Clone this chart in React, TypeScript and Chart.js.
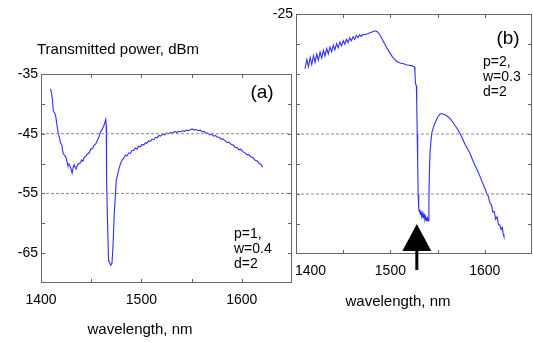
import React, { useEffect, useRef } from 'react';
import { Chart, registerables } from 'chart.js';

Chart.register(...registerables);

// ---------- Panel (a) data ----------
const wavelengthA = [
  1409.5, 1410.5, 1411.5, 1412.3, 1413.5, 1414.5, 1415.7, 1417.0, 1418.0, 1419.5,
  1420.7, 1421.5, 1422.3, 1423.5, 1425.0, 1426.0, 1426.7, 1428.0, 1429.0, 1430.0,
  1431.0, 1432.0, 1433.0, 1434.0, 1435.0, 1436.2, 1437.7, 1439.0, 1440.5, 1441.7,
  1443.0, 1444.5, 1446.3, 1448.0, 1449.5, 1451.7, 1453.0, 1454.5, 1456.3, 1457.5,
  1459.0, 1460.5, 1462.3, 1463.5, 1464.5, 1465.0, 1465.3, 1466.3, 1467.3, 1468.3,
  1469.5, 1470.7, 1471.7, 1473.0, 1475.0, 1477.3, 1479.0, 1480.7, 1482.5, 1484.0,
  1485.7, 1487.5, 1489.0, 1490.5, 1492.3, 1494.0, 1495.5, 1497.0, 1499.0, 1500.5,
  1502.3, 1504.0, 1505.5, 1507.0, 1509.0, 1510.5, 1512.5, 1514.0, 1515.7, 1517.5,
  1519.0, 1521.0, 1523.0, 1525.0, 1527.0, 1529.0, 1531.0, 1533.0, 1535.0, 1537.0,
  1539.0, 1541.0, 1543.0, 1545.0, 1547.0, 1549.0, 1550.7, 1552.5, 1554.5, 1556.5,
  1558.5, 1560.5, 1562.3, 1564.0, 1566.0, 1568.0, 1570.0, 1572.0, 1574.0, 1575.7,
  1577.5, 1579.5, 1581.5, 1583.5, 1585.7, 1587.3, 1589.5, 1591.5, 1593.5, 1595.5,
  1597.0, 1599.0, 1601.0, 1603.0, 1605.0, 1607.0, 1609.0, 1611.0, 1613.0, 1615.7,
  1617.5, 1619.0, 1620.7,
];
const powerA = [
  -37.5, -38.2, -39.5, -41.2, -41.5, -41.9, -43.3, -44.8, -45.4, -46.6,
  -46.8, -47.8, -48.4, -48.6, -49.0, -49.8, -50.3, -50.1, -50.5, -50.9,
  -51.6, -50.7, -50.2, -50.6, -50.9, -50.3, -50.0, -49.9, -49.4, -49.6,
  -49.0, -48.8, -48.4, -48.2, -47.6, -47.4, -46.9, -46.7, -46.1, -45.6,
  -44.8, -44.4, -43.8, -43.2, -42.6, -43.6, -52.8, -60.0, -66.2, -66.6,
  -67.0, -66.7, -63.9, -58.3, -52.8, -51.1, -50.1, -49.4, -49.1, -48.6,
  -48.7, -48.2, -48.3, -47.8, -47.8, -47.4, -47.6, -47.1, -47.2, -46.8,
  -46.9, -46.5, -46.6, -46.2, -46.3, -45.9, -46.0, -45.6, -45.7, -45.3,
  -45.4, -45.1, -45.2, -44.9, -45.0, -44.8, -44.9, -44.6, -44.8, -44.6,
  -44.7, -44.5, -44.6, -44.4, -44.5, -44.3, -44.2, -44.4, -44.3, -44.5,
  -44.4, -44.7, -44.6, -44.9, -44.9, -45.2, -45.1, -45.4, -45.3, -45.6,
  -45.6, -45.9, -45.9, -46.2, -46.5, -46.4, -46.8, -46.9, -47.3, -47.3,
  -47.7, -47.6, -48.0, -48.2, -48.5, -48.5, -48.9, -49.0, -49.4, -49.6,
  -50.0, -50.1, -50.6,
];

// ---------- Panel (b) data ----------
const wavelengthB = [
  1409.5, 1411.5, 1413.2, 1415.0, 1416.7, 1418.5, 1420.2, 1422.0, 1423.7, 1425.5,
  1427.2, 1429.0, 1430.7, 1432.5, 1434.2, 1436.0, 1437.7, 1439.5, 1441.2, 1443.0,
  1444.7, 1446.5, 1448.2, 1450.0, 1451.7, 1453.5, 1455.2, 1457.0, 1458.7, 1460.5,
  1462.2, 1464.0, 1465.7, 1467.5, 1469.2, 1471.0, 1473.0, 1476.0, 1479.0, 1482.0,
  1484.0, 1486.0, 1488.0, 1490.0, 1492.0, 1494.0, 1496.0, 1498.0, 1500.0, 1502.0,
  1504.0, 1506.0, 1508.0, 1511.0, 1514.0, 1517.0, 1520.0, 1523.0, 1525.5, 1526.0,
  1526.5, 1527.5, 1527.9, 1528.4, 1528.9, 1529.4, 1530.0, 1530.7, 1531.3, 1531.8,
  1532.4, 1533.0, 1533.6, 1534.2, 1534.8, 1535.4, 1536.0, 1536.6, 1537.2, 1537.8,
  1538.4, 1539.0, 1539.6, 1540.2, 1540.8, 1541.3, 1542.0, 1543.7, 1545.5, 1547.2,
  1550.0, 1552.5, 1554.2, 1557.0, 1560.0, 1563.0, 1566.0, 1569.0, 1571.5, 1573.7,
  1576.5, 1579.0, 1581.5, 1584.3, 1587.0, 1589.5, 1592.0, 1595.0, 1597.5, 1600.0,
  1602.0, 1603.7, 1605.5, 1607.0, 1608.5, 1610.0, 1611.5, 1613.0, 1614.5, 1616.0,
  1617.3, 1618.5, 1619.5, 1620.3,
];
const powerB = [
  -34.15, -32.57, -33.79, -32.25, -33.44, -31.94, -33.07, -31.67, -32.69, -31.35,
  -32.34, -31.05, -31.99, -30.77, -31.65, -30.49, -31.31, -30.21, -30.97, -29.93,
  -30.63, -29.64, -30.30, -29.42, -30.03, -29.20, -29.75, -28.98, -29.47, -28.77,
  -29.20, -28.55, -28.95, -28.46, -28.74, -28.38, -28.45, -28.30, -28.10, -27.90,
  -27.80, -27.95, -28.30, -28.80, -29.40, -30.00, -30.60, -31.10, -31.60, -32.10,
  -32.50, -32.80, -33.00, -33.20, -33.30, -33.45, -33.55, -33.65, -33.80, -34.60,
  -36.50, -37.00, -40.00, -45.00, -50.00, -55.00, -57.50, -58.00, -57.60, -58.40,
  -57.90, -58.70, -58.20, -58.90, -58.40, -59.10, -58.60, -59.20, -58.80, -59.40,
  -58.90, -59.50, -59.10, -59.40, -56.00, -51.50, -48.00, -44.90, -43.90, -43.20,
  -42.20, -41.70, -41.60, -41.75, -42.00, -42.40, -43.00, -43.70, -44.30, -44.90,
  -45.80, -46.70, -47.40, -48.20, -49.30, -50.20, -51.00, -52.10, -53.10, -54.00,
  -54.90, -55.40, -56.50, -56.80, -58.00, -57.90, -59.20, -58.80, -60.10, -60.20,
  -60.90, -60.60, -61.70, -62.10,
];

// ---------- Axes / annotations ----------
const xRange = [1400, 1650];
const yRangeA = [-70, -35];
const yRangeB = [-65, -25];
const xTickLabels = [1400, 1500, 1600];
const xTickMarks = [1450, 1500, 1550, 1600];
const yTickLabelsA = [-35, -45, -55, -65];
const yTickMarksA = [-40, -45, -50, -55, -60, -65];
const yTickLabelsB = [-25];
const yTickMarksB = [-30, -35, -40, -45, -50, -55, -60];
const dashedLevels = [-45, -55];
const paramsA = ['p=1,', 'w=0.4', 'd=2'];
const paramsB = ['p=2,', 'w=0.3', 'd=2'];
const arrowWavelength = 1528;
const arrowTipPower = -60;
const arrowBasePower = -64.5;

const FONT = '"Liberation Sans", Arial, Helvetica, sans-serif';
const LINE_BLUE = '#2f2fff';
const FRAME = '#666666';
const DASH = '#8a8a8a';

type PanelCfg = {
  id: string;
  wl: number[];
  pw: number[];
  yRange: number[];
  yLabels: number[];
  yMarks: number[];
  padding: { left: number; top: number; right: number; bottom: number };
  xLabelY: number;
  firstXLabelLeft: boolean;
  xTitle: { x: number; y: number };
  yTitle?: { x: number; y: number; text: string };
  tag: { text: string; x: number; y: number };
  params: string[];
  paramsPos: { x: number; y: number };
  arrow: boolean;
};

function makePlugin(cfg: PanelCfg) {
  return {
    id: 'frame_' + cfg.id,
    afterDraw(chart: any) {
      const ctx = chart.ctx as CanvasRenderingContext2D;
      const { left, right, top, bottom } = chart.chartArea;
      const xs = chart.scales.x;
      const ys = chart.scales.y;
      ctx.save();
      ctx.strokeStyle = FRAME;
      ctx.lineWidth = 1;
      ctx.strokeRect(Math.round(left) + 0.5, Math.round(top) + 0.5, Math.round(right - left) - 1, Math.round(bottom - top) - 1);
      const tl = 4;
      ctx.beginPath();
      xTickMarks.forEach((v) => {
        const px = Math.round(xs.getPixelForValue(v)) + 0.5;
        ctx.moveTo(px, bottom);
        ctx.lineTo(px, bottom - tl);
        ctx.moveTo(px, top);
        ctx.lineTo(px, top + tl);
      });
      cfg.yMarks.forEach((v) => {
        const py = Math.round(ys.getPixelForValue(v)) + 0.5;
        ctx.moveTo(left, py);
        ctx.lineTo(left + tl, py);
        ctx.moveTo(right, py);
        ctx.lineTo(right - tl, py);
      });
      ctx.stroke();

      ctx.fillStyle = '#000';
      ctx.font = `14px ${FONT}`;
      ctx.textBaseline = 'middle';
      ctx.textAlign = 'right';
      cfg.yLabels.forEach((v) => {
        ctx.fillText(String(v), left - 3, ys.getPixelForValue(v));
      });
      xTickLabels.forEach((v, i) => {
        const px = xs.getPixelForValue(v);
        if (i === 0 && cfg.firstXLabelLeft) {
          ctx.textAlign = 'left';
          ctx.fillText(String(v), px - 1, cfg.xLabelY);
        } else {
          ctx.textAlign = 'center';
          ctx.fillText(String(v), px, cfg.xLabelY);
        }
      });

      ctx.font = `15px ${FONT}`;
      ctx.textAlign = 'center';
      ctx.fillText('wavelength, nm', cfg.xTitle.x, cfg.xTitle.y);
      if (cfg.yTitle) {
        ctx.textAlign = 'left';
        ctx.fillText(cfg.yTitle.text, cfg.yTitle.x, cfg.yTitle.y);
      }

      ctx.font = `19px ${FONT}`;
      ctx.textAlign = 'center';
      ctx.fillText(cfg.tag.text, cfg.tag.x, cfg.tag.y);

      ctx.font = `14px ${FONT}`;
      ctx.textAlign = 'left';
      cfg.params.forEach((t, i) => {
        ctx.fillText(t, cfg.paramsPos.x, cfg.paramsPos.y + i * 15);
      });

      if (cfg.arrow) {
        const ax = xs.getPixelForValue(arrowWavelength);
        const tipY = ys.getPixelForValue(arrowTipPower);
        const baseY = ys.getPixelForValue(arrowBasePower);
        ctx.fillStyle = '#000';
        ctx.beginPath();
        ctx.moveTo(ax, tipY);
        ctx.lineTo(ax + 14.5, baseY);
        ctx.lineTo(ax - 14.5, baseY);
        ctx.closePath();
        ctx.fill();
        ctx.strokeStyle = '#000';
        ctx.lineWidth = 3;
        ctx.beginPath();
        ctx.moveTo(ax, baseY);
        ctx.lineTo(ax, baseY + 19);
        ctx.stroke();
      }
      ctx.restore();
    },
  };
}

function Panel({ cfg }: { cfg: PanelCfg }) {
  const ref = useRef<HTMLCanvasElement | null>(null);
  useEffect(() => {
    if (!ref.current) return;
    const curve = cfg.wl.map((x, i) => ({ x, y: cfg.pw[i] }));
    const dashSets = dashedLevels.map((lvl) => ({
      data: [
        { x: xRange[0], y: lvl },
        { x: xRange[1], y: lvl },
      ],
      borderColor: DASH,
      borderWidth: 1,
      borderDash: [3, 2],
      pointRadius: 0,
      fill: false,
    }));
    const chart = new Chart(ref.current, {
      type: 'line',
      data: {
        datasets: [
          ...dashSets,
          {
            data: curve,
            borderColor: LINE_BLUE,
            borderWidth: 1.1,
            pointRadius: 0,
            fill: false,
            tension: 0,
          },
        ],
      },
      options: {
        responsive: false,
        animation: false,
        devicePixelRatio: 1,
        layout: { padding: cfg.padding },
        plugins: { legend: { display: false }, tooltip: { enabled: false } },
        events: [],
        scales: {
          x: { type: 'linear', display: false, min: xRange[0], max: xRange[1] },
          y: { type: 'linear', display: false, min: cfg.yRange[0], max: cfg.yRange[1] },
        },
      },
      plugins: [makePlugin(cfg)],
    } as any);
    return () => chart.destroy();
  }, [cfg]);
  return (
    <canvas
      ref={ref}
      width={533}
      height={343}
      style={{ position: 'absolute', left: 0, top: 0, width: 533, height: 343 }}
    />
  );
}

const cfgA: PanelCfg = {
  id: 'a',
  wl: wavelengthA,
  pw: powerA,
  yRange: yRangeA,
  yLabels: yTickLabelsA,
  yMarks: yTickMarksA,
  padding: { left: 41, top: 74, right: 241, bottom: 60 },
  xLabelY: 300,
  firstXLabelLeft: false,
  xTitle: { x: 140, y: 330 },
  yTitle: { x: 37, y: 50, text: 'Transmitted power, dBm' },
  tag: { text: '(a)', x: 262, y: 93 },
  params: paramsA,
  paramsPos: { x: 234, y: 234 },
  arrow: false,
};

const cfgB: PanelCfg = {
  id: 'b',
  wl: wavelengthB,
  pw: powerB,
  yRange: yRangeB,
  yLabels: yTickLabelsB,
  yMarks: yTickMarksB,
  padding: { left: 296, top: 14, right: 1, bottom: 89 },
  xLabelY: 271,
  firstXLabelLeft: true,
  xTitle: { x: 398, y: 302 },
  tag: { text: '(b)', x: 508, y: 39 },
  params: paramsB,
  paramsPos: { x: 483, y: 62 },
  arrow: true,
};

export default function App() {
  return (
    <div
      style={{
        position: 'fixed',
        left: 0,
        top: 0,
        width: 533,
        height: 343,
        background: '#fff',
        overflow: 'hidden',
      }}
    >
      <Panel cfg={cfgA} />
      <Panel cfg={cfgB} />
    </div>
  );
}
